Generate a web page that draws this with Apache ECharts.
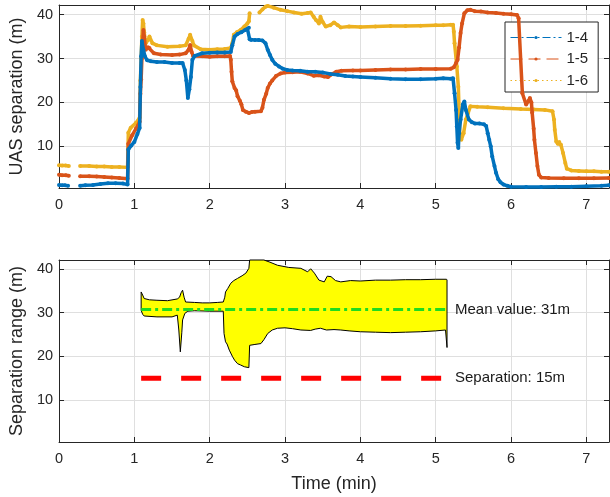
<!DOCTYPE html>
<html>
<head>
<meta charset="utf-8">
<script src="https://cdn.jsdelivr.net/npm/echarts@6/dist/echarts.min.js"></script>
<style>html,body{margin:0;padding:0;background:#fff;}#c{width:610px;height:497px;}</style>
</head>
<body>
<div id="c"></div>
<script>
// ---- data (time in minutes, separation in metres) ----
const xTicks = [0, 1, 2, 3, 4, 5, 6, 7];
const seriesNames = ['1-4', '1-5', '1-6'];
const s14 = [[0,1.2],[0.04,1.1],[0.08,1.1],[0.12,1.0],[0.2,null],[0.28,1.0],[0.35,1.1],[0.45,1.2],[0.55,1.4],[0.65,1.6],[0.75,1.6],[0.85,1.5],[0.91,1.3],[0.92,9.3],[0.96,10.2],[1.0,11.0],[1.04,12.8],[1.07,14.2],[1.08,23.5],[1.09,30.5],[1.1,34.0],[1.12,32.0],[1.14,30.5],[1.17,29.6],[1.22,29.4],[1.3,29.2],[1.4,29.2],[1.5,29.0],[1.6,29.0],[1.64,29.0],[1.67,27.4],[1.69,25.0],[1.71,21.0],[1.73,23.0],[1.75,25.8],[1.77,29.7],[1.8,30.6],[1.9,31.2],[2.0,31.3],[2.1,31.4],[2.2,31.4],[2.28,31.5],[2.3,33.0],[2.33,35.0],[2.37,35.6],[2.42,36.0],[2.47,36.5],[2.5,36.8],[2.52,37.0],[2.53,34.4],[2.55,34.2],[2.6,34.2],[2.65,34.2],[2.7,34.1],[2.74,33.5],[2.77,32.0],[2.8,30.8],[2.83,29.7],[2.87,28.8],[2.92,28.2],[2.97,27.7],[3.03,27.4],[3.1,27.3],[3.2,27.2],[3.3,27.0],[3.4,27.0],[3.5,26.8],[3.6,26.5],[3.7,26.3],[3.8,26.0],[3.9,25.9],[4.0,25.8],[4.2,25.6],[4.4,25.4],[4.6,25.3],[4.8,25.3],[5.0,25.4],[5.1,25.5],[5.2,25.4],[5.23,25.5],[5.25,22.1],[5.27,18.3],[5.28,14.5],[5.29,10.8],[5.3,9.6],[5.31,13.0],[5.33,16.1],[5.36,19.5],[5.38,20.2],[5.4,18.3],[5.44,16.1],[5.48,15.5],[5.52,15.2],[5.58,15.2],[5.64,15.0],[5.67,14.6],[5.69,13.0],[5.71,11.5],[5.73,10.0],[5.75,7.7],[5.78,5.5],[5.8,4.0],[5.83,2.5],[5.86,1.8],[5.9,1.3],[5.95,1.0],[6.0,0.8],[6.2,0.7],[6.4,0.7],[6.6,0.8],[6.8,0.8],[7.0,0.9],[7.2,1.0],[7.3,1.1]];
const s15 = [[0,3.5],[0.04,3.4],[0.09,3.4],[0.13,3.3],[0.2,null],[0.28,3.2],[0.4,3.2],[0.5,3.1],[0.6,3.0],[0.7,2.9],[0.8,2.8],[0.91,2.6],[0.92,10.6],[0.97,12.5],[1.02,14.0],[1.07,15.6],[1.08,22.0],[1.09,25.2],[1.1,30.0],[1.11,34.0],[1.12,36.5],[1.13,35.0],[1.15,32.0],[1.18,32.6],[1.2,32.4],[1.26,31.2],[1.35,30.9],[1.5,30.8],[1.6,30.9],[1.68,31.2],[1.72,32.0],[1.74,33.1],[1.76,31.5],[1.78,30.6],[1.9,30.5],[2.0,30.4],[2.1,30.5],[2.2,30.5],[2.27,30.6],[2.28,29.7],[2.29,27.0],[2.3,24.8],[2.33,23.3],[2.35,22.8],[2.37,21.4],[2.4,20.4],[2.42,19.6],[2.44,18.3],[2.48,17.9],[2.52,17.6],[2.56,17.8],[2.6,17.9],[2.68,18.0],[2.7,18.8],[2.72,20.6],[2.75,22.0],[2.77,23.3],[2.8,24.3],[2.83,25.0],[2.88,26.0],[2.94,26.6],[3.0,26.8],[3.1,26.9],[3.2,27.0],[3.3,26.6],[3.38,26.1],[3.45,26.2],[3.52,25.9],[3.57,25.8],[3.62,26.4],[3.68,27.0],[3.75,27.2],[3.9,27.3],[4.0,27.3],[4.2,27.4],[4.4,27.5],[4.6,27.5],[4.8,27.6],[5.0,27.6],[5.2,27.7],[5.24,28.0],[5.27,29.0],[5.29,29.7],[5.31,32.5],[5.33,35.8],[5.35,38.0],[5.38,40.3],[5.42,41.0],[5.46,41.1],[5.52,40.8],[5.6,40.7],[5.69,40.5],[5.8,40.4],[5.9,40.2],[6.0,40.1],[6.08,39.9],[6.1,39.2],[6.15,22.1],[6.2,19.5],[6.23,20.3],[6.25,21.0],[6.27,20.0],[6.28,17.7],[6.3,14.0],[6.31,11.5],[6.33,8.5],[6.35,5.5],[6.37,3.5],[6.4,2.9],[6.5,2.8],[6.7,2.7],[6.9,2.7],[7.1,2.7],[7.3,2.8]];
const s16 = [[0,5.7],[0.04,5.6],[0.09,5.6],[0.13,5.5],[0.2,null],[0.28,5.5],[0.4,5.5],[0.5,5.4],[0.6,5.4],[0.7,5.3],[0.8,5.3],[0.91,5.2],[0.92,13.1],[0.95,14.2],[1.02,15.3],[1.07,16.5],[1.08,25.0],[1.09,30.0],[1.1,35.0],[1.11,38.8],[1.12,38.0],[1.13,36.0],[1.15,33.5],[1.18,34.2],[1.2,35.0],[1.24,33.5],[1.3,33.0],[1.44,32.7],[1.6,32.8],[1.68,33.0],[1.72,34.5],[1.74,35.4],[1.77,34.0],[1.79,33.0],[1.88,32.1],[2.0,32.0],[2.1,32.1],[2.2,32.2],[2.28,32.4],[2.3,33.5],[2.32,35.4],[2.36,36.0],[2.41,36.5],[2.46,37.3],[2.5,38.0],[2.52,38.5],[2.53,40.3],[2.6,null],[2.66,40.5],[2.7,41.2],[2.74,41.8],[2.77,42.0],[2.85,41.6],[2.94,41.1],[3.03,40.8],[3.12,40.5],[3.22,40.2],[3.3,40.4],[3.34,40.5],[3.38,39.5],[3.41,38.8],[3.45,38.0],[3.47,39.5],[3.5,38.3],[3.54,37.3],[3.6,37.6],[3.65,38.2],[3.7,37.6],[3.74,37.1],[3.85,37.3],[4.0,37.2],[4.2,37.3],[4.4,37.4],[4.6,37.4],[4.8,37.5],[5.0,37.6],[5.1,37.6],[5.2,37.7],[5.23,37.7],[5.24,36.1],[5.25,33.5],[5.28,28.2],[5.3,23.6],[5.31,18.3],[5.32,13.0],[5.34,11.5],[5.37,13.0],[5.4,16.1],[5.43,17.6],[5.46,19.1],[5.55,19.0],[5.69,18.9],[5.9,18.7],[6.13,18.5],[6.3,18.4],[6.45,18.3],[6.55,18.0],[6.57,16.1],[6.58,13.8],[6.6,11.1],[6.62,10.6],[6.64,11.0],[6.66,10.4],[6.69,8.5],[6.72,6.2],[6.74,4.9],[6.8,4.5],[6.9,4.4],[7.0,4.3],[7.1,4.3],[7.2,4.2],[7.3,4.2]];
const rangeUpper = [[1.09,34.7],[1.11,34.0],[1.13,33.2],[1.2,32.9],[1.3,32.8],[1.44,32.7],[1.57,33.1],[1.6,33.5],[1.62,34.5],[1.64,35.1],[1.66,33.5],[1.68,32.4],[1.8,32.3],[1.9,32.2],[2.0,32.2],[2.1,32.3],[2.18,32.4],[2.2,33.5],[2.21,34.7],[2.24,35.5],[2.28,36.7],[2.32,37.3],[2.37,37.8],[2.43,38.4],[2.48,39.0],[2.52,40.1],[2.53,42.0],[2.72,42.0],[2.8,41.5],[2.9,40.8],[3.05,40.3],[3.21,40.1],[3.3,39.3],[3.34,40.0],[3.39,39.0],[3.45,37.4],[3.52,37.0],[3.56,38.3],[3.61,38.2],[3.67,37.3],[3.74,37.0],[3.87,37.3],[4.0,37.2],[4.2,37.4],[4.4,37.4],[4.6,37.5],[4.8,37.5],[5.0,37.6],[5.14,37.6],[5.15,37.5]];
const rangeLower = [[1.09,30.5],[1.11,29.6],[1.13,29.2],[1.3,29.0],[1.5,29.0],[1.57,29.4],[1.59,26.0],[1.61,21.0],[1.63,25.5],[1.64,28.3],[1.67,29.8],[1.71,30.3],[1.8,30.4],[2.0,30.3],[2.18,30.3],[2.19,25.2],[2.21,23.3],[2.23,22.8],[2.26,21.4],[2.3,20.0],[2.33,19.1],[2.37,18.3],[2.41,18.0],[2.46,17.6],[2.52,17.4],[2.53,22.5],[2.6,22.7],[2.68,22.9],[2.72,23.8],[2.77,25.2],[2.83,26.0],[2.9,26.4],[3.0,26.5],[3.1,26.3],[3.21,26.0],[3.34,25.9],[3.4,26.2],[3.47,26.4],[3.55,26.0],[3.65,26.1],[3.74,26.0],[3.85,25.8],[4.0,25.6],[4.2,25.5],[4.4,25.4],[4.6,25.5],[4.8,25.6],[5.0,25.8],[5.13,26.0],[5.15,22.0]];
const meanSpan = [1.09, 5.15];
const meanValue = [30.7];
const separationValue = [15];
const meanText = 'Mean value: 31m';
const sepText = 'Separation: 15m';

const COLORS = ['#0072BD', '#D95319', '#EDB120'];
const AX = '#262626', GRID = '#dfdfdf';
const FONT = '"Liberation Sans", Arial, Helvetica, sans-serif';

function xAxes(gi, withName) {
  return [
    { gridIndex: gi, type: 'value', min: 0, max: 7.3, interval: 1, position: 'bottom',
      axisLine: { show: true, onZero: false, lineStyle: { color: AX, width: 1 } },
      axisTick: { show: true, inside: true, length: 5, lineStyle: { color: AX } },
      axisLabel: { color: AX, fontSize: 14.5, margin: 9, showMaxLabel: false, fontFamily: FONT },
      splitLine: { show: true, lineStyle: { color: GRID, width: 1 } },
      name: withName ? 'Time (min)' : '', nameLocation: 'middle', nameGap: 33,
      nameTextStyle: { color: AX, fontSize: 18, fontFamily: FONT } },
    { gridIndex: gi, type: 'value', min: 0, max: 7.3, interval: 1, position: 'top',
      axisLine: { show: true, onZero: false, lineStyle: { color: AX, width: 1 } },
      axisTick: { show: true, inside: true, length: 5, lineStyle: { color: AX } },
      axisLabel: { show: false }, splitLine: { show: false } }
  ];
}
function yAxes(gi, ymin, ymax, name) {
  return [
    { gridIndex: gi, type: 'value', min: ymin, max: ymax, position: 'left',
      axisLine: { show: true, onZero: false, lineStyle: { color: AX, width: 1 } },
      axisTick: { show: true, inside: true, length: 5, lineStyle: { color: AX } },
      axisLabel: { color: AX, fontSize: 14.5, margin: 6, showMinLabel: false, showMaxLabel: false, fontFamily: FONT },
      splitLine: { show: true, lineStyle: { color: GRID, width: 1 } },
      name: name, nameLocation: 'middle', nameGap: 29,
      nameTextStyle: { color: AX, fontSize: 18, fontFamily: FONT } },
    { gridIndex: gi, type: 'value', min: ymin, max: ymax, position: 'right',
      axisLine: { show: true, onZero: false, lineStyle: { color: AX, width: 1 } },
      axisTick: { show: true, inside: true, length: 5, lineStyle: { color: AX } },
      axisLabel: { show: false }, splitLine: { show: false } }
  ];
}

const dashTypes = [[8, 3, 2, 3], [12, 6], [1.5, 3]];
const topSeries = [s14, s15, s16].map((d, i) => ({
  name: seriesNames[i], type: 'line', xAxisIndex: 0, yAxisIndex: 0, data: d,
  symbol: 'circle', symbolSize: 4, showSymbol: true, showAllSymbol: true,
  connectNulls: false,
  lineStyle: { color: COLORS[i], width: 3.5 }, itemStyle: { color: COLORS[i] },
  z: 3 + (2 - i)
}));

const chart = echarts.init(document.getElementById('c'), null, { renderer: 'canvas' });
chart.setOption({
  animation: false,
  textStyle: { fontFamily: FONT },
  grid: [
    { left: 58, top: 5, width: 551, height: 183, containLabel: false },
    { left: 58, top: 260, width: 551, height: 182, containLabel: false }
  ],
  xAxis: xAxes(0, false).concat(xAxes(1, true)),
  yAxis: yAxes(0, 0.5, 42.2, 'UAS separation (m)').concat(yAxes(1, 0.4, 42, 'Separation range (m)')),
  legend: {
    orient: 'vertical', left: 505, top: 22, itemWidth: 51, itemHeight: 4, itemGap: 6.5,
    padding: [8, 10, 4, 5], backgroundColor: '#fff', borderColor: AX, borderWidth: 1, borderRadius: 0,
    textStyle: { fontSize: 15, color: AX, fontFamily: FONT },
    data: seriesNames.map((n, i) => ({ name: n, lineStyle: { width: 1, type: dashTypes[i] } }))
  },
  series: topSeries.concat([
    {
      type: 'custom', xAxisIndex: 2, yAxisIndex: 2, data: [[meanSpan[0], meanValue[0]]], z: 2,
      renderItem: function (params, api) {
        const pts = rangeUpper.map(p => api.coord(p))
          .concat(rangeLower.slice().reverse().map(p => api.coord(p)));
        return { type: 'polygon', shape: { points: pts },
          style: { fill: '#ffff00', stroke: '#000000', lineWidth: 1 } };
      }
    },
    {
      type: 'line', xAxisIndex: 2, yAxisIndex: 2, z: 4,
      data: [[meanSpan[0], meanValue[0]], [meanSpan[1], meanValue[0]]],
      symbol: 'none', lineStyle: { color: '#1fdc1f', width: 3, type: [10, 4, 3, 4] },
      endLabel: { show: true, formatter: meanText, distance: 8, color: '#1a1a1a', fontSize: 15, fontFamily: FONT }
    },
    {
      type: 'line', xAxisIndex: 2, yAxisIndex: 2, z: 4,
      data: [[meanSpan[0], separationValue[0]], [meanSpan[1], separationValue[0]]],
      symbol: 'none', lineStyle: { color: '#ff0000', width: 5, type: [20, 20] },
      endLabel: { show: true, formatter: sepText, distance: 8, color: '#1a1a1a', fontSize: 15, fontFamily: FONT }
    }
  ])
});
</script>
</body>
</html>
